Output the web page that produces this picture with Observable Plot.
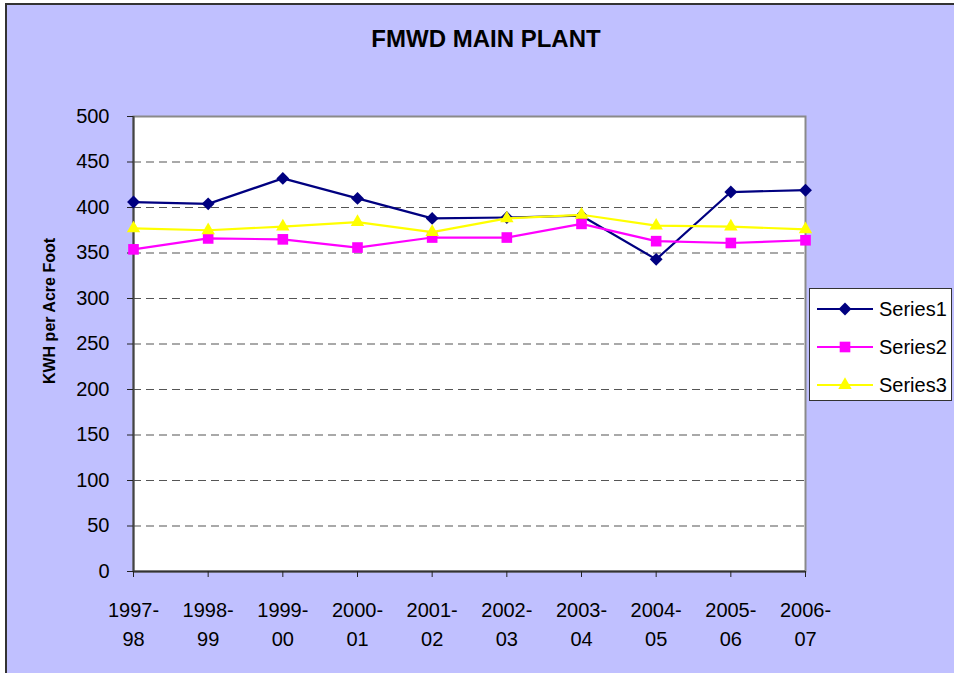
<!DOCTYPE html>
<html>
<head>
<meta charset="utf-8">
<script src="https://cdn.jsdelivr.net/npm/d3@7"></script>
<script src="https://cdn.jsdelivr.net/npm/@observablehq/plot@0.6"></script>
<style>
  html, body { margin: 0; padding: 0; background: #ffffff; }
  #wrap { position: relative; width: 954px; height: 673px; overflow: hidden; font-family: Arial, "Liberation Sans", sans-serif; }
  #bg { position: absolute; left: 5px; top: 3px; width: 990px; height: 700px; background: #C0C0FF; border-left: 2px solid #333; border-top: 2px solid #333; }
  #chart { position: absolute; left: 0; top: 0; }
  #title { position: absolute; left: 0; top: 27px; width: 972px; text-align: center; font-weight: bold; font-size: 24px; line-height: 1; color: #000; }
  #ylabel { position: absolute; left: 50px; top: 311px; transform: translate(-50%, -50%) rotate(-90deg); white-space: nowrap; font-weight: bold; font-size: 16px; line-height: 1; color: #000; }
  #legend { position: absolute; left: 809px; top: 288px; width: 143px; height: 113px; background: #fff; border: 1px solid #333; box-sizing: border-box; }
  .lrow { position: absolute; left: 0; height: 24px; display: flex; align-items: center; }
  .lrow span { font-size: 20px; margin-left: 6px; color: #000; }
</style>
</head>
<body>
<div id="wrap">
  <div id="bg"></div>
  <div id="chart"></div>
  <div id="title">FMWD MAIN PLANT</div>
  <div id="ylabel">KWH per Acre Foot</div>
  <div id="legend"></div>
</div>
<script>
const categories = ["1997-98","1998-99","1999-00","2000-01","2001-02","2002-03","2003-04","2004-05","2005-06","2006-07"];
const seriesNames = ["Series1","Series2","Series3"];
const series1 = [406, 404, 432, 410, 388, 389, 391, 343, 417, 419];
const series2 = [354, 366, 365, 356, 367, 367, 382, 363, 361, 364];
const series3 = [377, 375, 379, 384, 373, 388, 392, 380, 379, 376];
const yTicks = [0, 50, 100, 150, 200, 250, 300, 350, 400, 450, 500];
const seriesColors = ["#000080", "#FF00FF", "#FFFF00"];
const seriesSymbols = ["diamond2", "square", "triangle"];
const seriesR = [5.8, 6, 5];

const allValues = [series1, series2, series3];
const data = [];
seriesNames.forEach((s, i) => {
  categories.forEach((c, j) => data.push({series: s, year: c, value: allValues[i][j]}));
});

const font = "Arial, 'Liberation Sans', sans-serif";

const marks = [
  Plot.frame({fill: "white", stroke: "#8a8a8a", strokeWidth: 2}),
  Plot.gridY(yTicks.filter(v => v > 0 && v < 500), {stroke: "#555", strokeOpacity: 1, strokeWidth: 1.2, strokeDasharray: "8,5"}),
  Plot.ruleY([0], {stroke: "#333", strokeWidth: 2}),
  Plot.ruleX([categories[0]], {stroke: "#444", strokeWidth: 2}),
  Plot.axisY({ticks: yTicks, tickSize: 6, tickPadding: 18, fontSize: 20, label: null, stroke: "#222", fill: "#000", tickFormat: d => String(d)}),
  Plot.axisX({tickSize: 6, tickPadding: 19, fontSize: 20, label: null, lineHeight: 1.45, stroke: "#222", fill: "#000", tickFormat: d => d.replace("-", "-\n")})
];
seriesNames.forEach((s, i) => {
  const sub = data.filter(d => d.series === s);
  marks.push(Plot.line(sub, {x: "year", y: "value", stroke: "series", strokeWidth: 2.2}));
  marks.push(Plot.dot(sub, {x: "year", y: "value", fill: "series", symbol: "series", r: seriesR[i], stroke: "none"}));
});

const chart = Plot.plot({
  width: 954,
  height: 673,
  marginLeft: 133,
  marginRight: 149,
  marginTop: 116,
  marginBottom: 102,
  style: {background: "transparent", fontFamily: font, overflow: "visible"},
  x: {type: "point", domain: categories, padding: 0, round: false},
  y: {domain: [0, 500]},
  color: {domain: seriesNames, range: seriesColors},
  symbol: {domain: seriesNames, range: seriesSymbols},
  marks
});
document.getElementById("chart").appendChild(chart);

// Legend
const legend = d3.select("#legend");
const rowTops = [8, 46, 84];
const symMap = {diamond2: d3.symbolDiamond2, square: d3.symbolSquare, triangle: d3.symbolTriangle};
seriesNames.forEach((s, i) => {
  const row = legend.append("div").attr("class", "lrow").style("top", rowTops[i] + "px").style("left", "7px");
  const svg = row.append("svg").attr("width", 56).attr("height", 24);
  svg.append("line").attr("x1", 0).attr("x2", 56).attr("y1", 12).attr("y2", 12)
    .attr("stroke", seriesColors[i]).attr("stroke-width", 2.2);
  const size = Math.PI * seriesR[i] * seriesR[i];
  svg.append("path").attr("transform", "translate(28,12)")
    .attr("d", d3.symbol(symMap[seriesSymbols[i]], size)())
    .attr("fill", seriesColors[i]);
  row.append("span").text(s);
});
</script>
</body>
</html>
